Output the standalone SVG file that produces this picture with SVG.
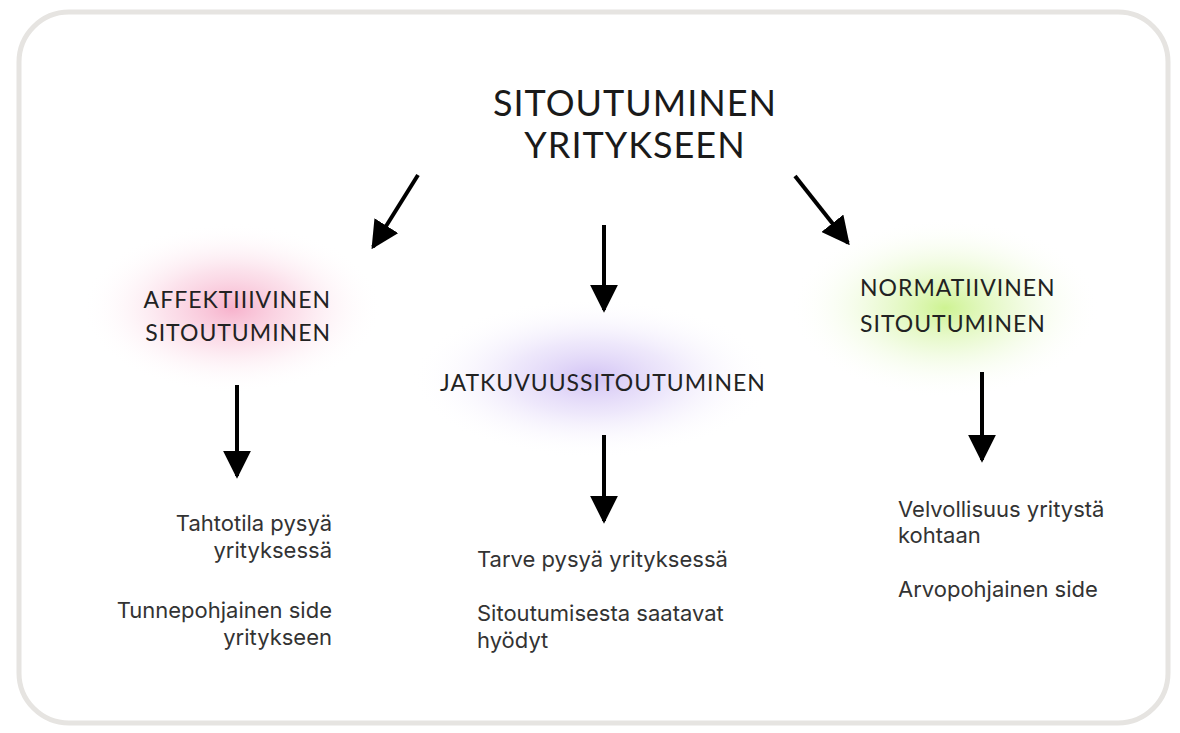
<svg xmlns="http://www.w3.org/2000/svg" width="1180" height="733" viewBox="0 0 1180 733">
<defs>
<radialGradient id="gPink" cx="0.5" cy="0.5" r="0.5">
<stop offset="0" stop-color="#f6a9c6" stop-opacity="0.9"/>
<stop offset="0.45" stop-color="#f9cadc" stop-opacity="0.55"/>
<stop offset="1" stop-color="#ffffff" stop-opacity="0"/>
</radialGradient>
<radialGradient id="gPurple" cx="0.5" cy="0.5" r="0.5">
<stop offset="0" stop-color="#cdbcf3" stop-opacity="0.9"/>
<stop offset="0.45" stop-color="#e0d5f8" stop-opacity="0.55"/>
<stop offset="1" stop-color="#ffffff" stop-opacity="0"/>
</radialGradient>
<radialGradient id="gGreen" cx="0.5" cy="0.5" r="0.5">
<stop offset="0" stop-color="#cbf28c" stop-opacity="0.95"/>
<stop offset="0.45" stop-color="#e3f8c3" stop-opacity="0.6"/>
<stop offset="1" stop-color="#ffffff" stop-opacity="0"/>
</radialGradient>
<marker id="ah" viewBox="0 0 10 10" refX="9" refY="5" markerWidth="7" markerHeight="7" markerUnits="strokeWidth" orient="auto">
<path d="M0,0 L10,5 L0,10 z" fill="#000"/>
</marker>
</defs>
<style>
.head{font-family:Lato,"Noto Sans",sans-serif;font-size:36px;fill:#1a1a1a;letter-spacing:1px}
.lbl{font-family:Lato,"Noto Sans",sans-serif;font-size:23px;fill:#222;letter-spacing:1px}
.txt{font-family:Inter,Roboto,sans-serif;font-size:22px;fill:#333}
.arr{stroke:#000;stroke-width:4;fill:none;marker-end:url(#ah)}
</style>
<rect x="0" y="0" width="1180" height="733" fill="#ffffff"/>
<rect x="19" y="12" width="1149" height="711" rx="50" ry="50" fill="#fff" stroke="#e6e4e1" stroke-width="5"/>

<g id="title">
<text class="head" x="635" y="116" text-anchor="middle">SITOUTUMINEN</text>
<text class="head" x="635" y="158" text-anchor="middle">YRITYKSEEN</text>
</g>

<g id="affektiivinen">
<ellipse cx="232" cy="308" rx="150" ry="85" fill="url(#gPink)"/>
<text class="lbl" x="331" y="308" text-anchor="end">AFFEKTIIIVINEN</text>
<text class="lbl" x="331" y="341" text-anchor="end">SITOUTUMINEN</text>
</g>

<g id="jatkuvuus">
<ellipse cx="592" cy="378" rx="180" ry="80" fill="url(#gPurple)"/>
<text class="lbl" x="440" y="391">JATKUVUUSSITOUTUMINEN</text>
</g>

<g id="normatiivinen">
<ellipse cx="945" cy="308" rx="155" ry="90" fill="url(#gGreen)"/>
<text class="lbl" x="860" y="296">NORMATIIVINEN</text>
<text class="lbl" x="860" y="332">SITOUTUMINEN</text>
</g>

<g id="affektiivinen-kuvaus">
<text class="txt" x="332" y="531" text-anchor="end">Tahtotila pysyä</text>
<text class="txt" x="332" y="558" text-anchor="end">yrityksessä</text>
<text class="txt" x="332" y="618" text-anchor="end">Tunnepohjainen side</text>
<text class="txt" x="332" y="645" text-anchor="end">yritykseen</text>
</g>

<g id="jatkuvuus-kuvaus">
<text class="txt" x="477" y="567">Tarve pysyä yrityksessä</text>
<text class="txt" x="477" y="621">Sitoutumisesta saatavat</text>
<text class="txt" x="477" y="648">hyödyt</text>
</g>

<g id="normatiivinen-kuvaus">
<text class="txt" x="898" y="517">Velvollisuus yritystä</text>
<text class="txt" x="898" y="543">kohtaan</text>
<text class="txt" x="898" y="597">Arvopohjainen side</text>
</g>

<g id="connectors">
<line class="arr" x1="418" y1="175" x2="373" y2="247"/>
<line class="arr" x1="604" y1="225" x2="604" y2="310"/>
<line class="arr" x1="795" y1="176" x2="848" y2="243"/>
<line class="arr" x1="237" y1="385" x2="237" y2="476"/>
<line class="arr" x1="604" y1="435" x2="604" y2="521"/>
<line class="arr" x1="982" y1="372" x2="982" y2="460"/>
</g>
</svg>
